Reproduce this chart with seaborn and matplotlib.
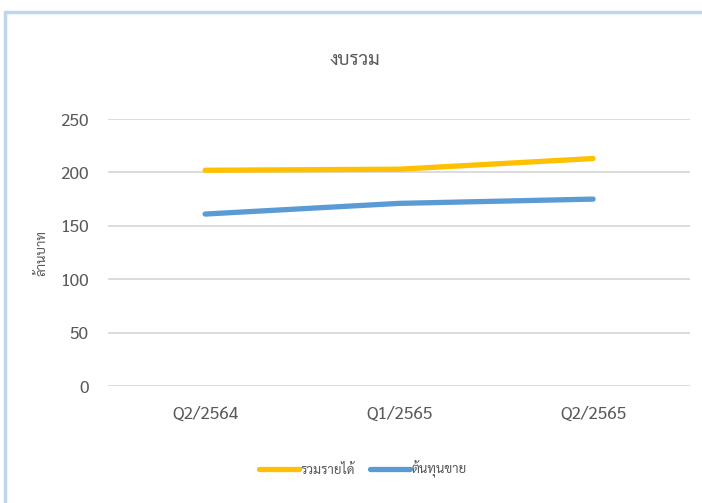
import matplotlib
matplotlib.use("Agg")
import matplotlib.pyplot as plt
import seaborn as sns
import pandas as pd
from matplotlib.lines import Line2D

# Data (million baht)
quarters = ['Q2/2564', 'Q1/2565', 'Q2/2565']
revenue = [202, 203, 213]      # รวมรายได้
cost = [161, 171, 175]         # ต้นทุนขาย
series_names = ['รวมรายได้', 'ต้นทุนขาย']

df = pd.DataFrame({
    'quarter': quarters * 2,
    'value': revenue + cost,
    'series': [series_names[0]] * 3 + [series_names[1]] * 3,
})

sns.set_style('white')
plt.rcParams['font.family'] = ['Sarabun', 'Noto Sans', 'DejaVu Sans']

grey = '#595959'
fig = plt.figure(figsize=(7.02, 5.03), dpi=100)
ax = fig.add_axes([0.154, 0.2326, 0.829, 0.5308])

sns.lineplot(data=df, x='quarter', y='value', hue='series',
             palette=['#FFC000', '#5B9BD5'], linewidth=3.8, sort=False,
             solid_capstyle='round', ax=ax, legend=False)

ax.set_xlim(-0.5, 2.5)
ax.set_ylim(0, 250)
ax.set_yticks([0, 50, 100, 150, 200, 250])
ax.yaxis.grid(True, color='#D9D9D9', linewidth=1.3)
ax.set_axisbelow(True)
for s in ax.spines.values():
    s.set_visible(False)
ax.tick_params(axis='both', length=0, labelsize=12.5, colors=grey)
ax.tick_params(axis='y', pad=14)
ax.tick_params(axis='x', pad=14)
ax.set_xlabel('')
ax.set_ylabel('ล้านบาท', fontsize=9.5, color=grey, labelpad=8)

# title is centred on the whole chart area, as in Excel
fig.text(0.505, 1 - 60 / 503, 'งบรวม', fontsize=13.5, color=grey,
         ha='center', va='center')

handles = [Line2D([], [], color='#FFC000', linewidth=3.8, solid_capstyle='round'),
           Line2D([], [], color='#5B9BD5', linewidth=3.8, solid_capstyle='round')]
fig.legend(handles, series_names, loc='center', bbox_to_anchor=(0.517, 0.067),
           ncol=2, frameon=False, fontsize=9.5, handlelength=3.0,
           handletextpad=0.1, columnspacing=1.2, labelcolor=grey)

# chart-area border (Excel style)
fig.add_artist(Line2D([5 / 702, 5 / 702], [0, 1 - 12 / 503], color='#BDD7EE', linewidth=2.5))
fig.add_artist(Line2D([5 / 702, 1], [1 - 12 / 503, 1 - 12 / 503], color='#BDD7EE', linewidth=2.5))

fig.savefig('out.png', dpi=100)
